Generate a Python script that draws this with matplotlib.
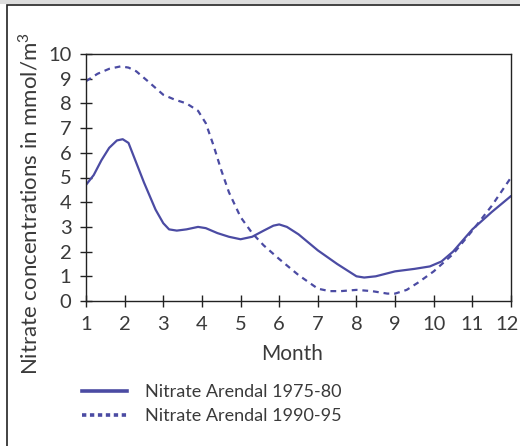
import matplotlib
matplotlib.use("Agg")
import matplotlib.pyplot as plt
import matplotlib.transforms as mtransforms
from matplotlib.lines import Line2D
from matplotlib.patches import Rectangle

# values
months_a = [1, 1.2, 1.4, 1.6, 1.8, 1.95, 2.1, 2.3, 2.5, 2.8, 3.0, 3.15, 3.35, 3.6, 3.9, 4.1, 4.4, 4.7, 5.0, 5.3, 5.6, 5.85, 6.0, 6.2, 6.5, 7.0, 7.5, 8.0, 8.2, 8.5, 9.0, 9.5, 9.9, 10.2, 10.5, 11.0, 11.5, 12.0]
nitrate_a = [4.7, 5.1, 5.7, 6.2, 6.5, 6.55, 6.4, 5.6, 4.8, 3.7, 3.15, 2.9, 2.85, 2.9, 3.0, 2.95, 2.75, 2.6, 2.5, 2.6, 2.85, 3.05, 3.1, 3.0, 2.7, 2.05, 1.5, 1.0, 0.95, 1.0, 1.2, 1.3, 1.4, 1.6, 2.0, 2.9, 3.6, 4.25]

months_b = [1, 1.3, 1.6, 1.9, 2.1, 2.3, 2.6, 3.0, 3.3, 3.6, 3.9, 4.1, 4.3, 4.5, 4.7, 5.0, 5.3, 5.6, 6.0, 6.5, 7.0, 7.3, 7.6, 8.0, 8.4, 8.8, 9.0, 9.3, 9.6, 10.0, 10.5, 11.0, 11.5, 12.0]
nitrate_b = [8.9, 9.2, 9.4, 9.5, 9.45, 9.3, 8.9, 8.35, 8.15, 8.0, 7.7, 7.2, 6.3, 5.3, 4.4, 3.4, 2.75, 2.25, 1.7, 1.05, 0.5, 0.4, 0.4, 0.45, 0.4, 0.3, 0.3, 0.45, 0.75, 1.2, 1.9, 2.85, 3.85, 5.0]

xticks = list(range(1, 13))
yticks = list(range(0, 11))

color = "#4b4ba3"
textc = "#3a3a3a"
plt.rcParams["font.family"] = ["Lato", "DejaVu Sans"]
plt.rcParams["mathtext.fontset"] = "custom"
plt.rcParams["mathtext.rm"] = "Lato"

fig = plt.figure(figsize=(5.2, 4.46), dpi=100)
ax = fig.add_axes([86 / 520, 1 - 301 / 446, 425 / 520, 247 / 446])

ax.plot(months_a, nitrate_a, color=color, lw=1.6, solid_capstyle="round")
ax.plot(months_b, nitrate_b, color=color, lw=1.6, linestyle=(0, (2.6, 2.2)))

ax.set_xlim(1, 12)
ax.set_ylim(0, 10)
ax.set_xticks(xticks)
ax.set_yticks(yticks)
ax.tick_params(direction="inout", length=9, width=1, colors="#222222",
               labelsize=14.5, labelcolor=textc, pad=6)
for s in ax.spines.values():
    s.set_linewidth(1)
    s.set_color("#222222")

# the last month label sits against the right edge, nudge it in a little
last = ax.get_xticklabels()[-1]
last.set_transform(last.get_transform() +
                   mtransforms.ScaledTranslation(-0.035, 0, fig.dpi_scale_trans))

ax.set_xlabel("Month", fontsize=15, color=textc)
ax.xaxis.set_label_coords(0.485, -0.175)
ax.set_ylabel("Nitrate concentrations in mmol/m$^3$", fontsize=16, color=textc)
ax.yaxis.set_label_coords(-0.105, 0.395)

handles = [Line2D([], [], color=color, lw=2.6),
           Line2D([], [], color=color, lw=2.6, linestyle=(0, (1.2, 1.0)))]
fig.legend(handles, ["Nitrate Arendal 1975-80", "Nitrate Arendal 1990-95"],
           loc="upper left", bbox_to_anchor=(66 / 520, 1 - 368 / 446),
           frameon=False, fontsize=13, handlelength=2.5, handletextpad=1.0,
           labelspacing=0.45, labelcolor=textc)

# outer frame of the figure panel
fig.patches.append(Rectangle((0, 1 - 4 / 446), 1, 4 / 446, transform=fig.transFigure,
                             facecolor="#dddddd", edgecolor="none", zorder=0))
fig.patches.append(Rectangle((7 / 520, -0.05), 1.1, 1 - 5 / 446 + 0.05,
                             transform=fig.transFigure, facecolor="none",
                             edgecolor="#222222", lw=1.2, zorder=1))

fig.savefig("out.png", dpi=100)
